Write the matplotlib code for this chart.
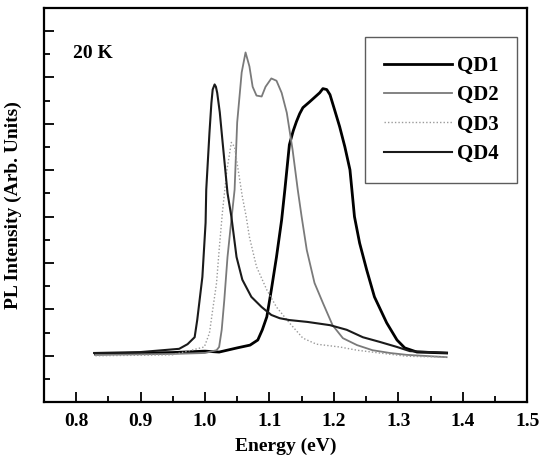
import matplotlib
matplotlib.use("Agg")
import matplotlib.pyplot as plt
from matplotlib.ticker import MultipleLocator

plt.rcParams["font.family"] = ["Liberation Serif", "DejaVu Serif"]
plt.rcParams["font.weight"] = "bold"

# spectra (energy in eV, intensity in arbitrary units)
qd1_e = [0.83, 0.95, 1.00, 1.022, 1.05, 1.07, 1.082, 1.089, 1.096, 1.103, 1.111,
         1.119, 1.124, 1.131, 1.137, 1.142, 1.147, 1.152, 1.162, 1.170, 1.178,
         1.183, 1.189, 1.194, 1.201, 1.209, 1.217, 1.225, 1.228, 1.232, 1.240,
         1.251, 1.263, 1.282, 1.298, 1.310, 1.329, 1.375]
qd1_i = [1.04, 1.07, 1.10, 1.08, 1.17, 1.23, 1.34, 1.56, 1.84, 2.42, 3.13,
         3.93, 4.58, 5.55, 5.85, 6.05, 6.22, 6.35, 6.47, 6.57, 6.67,
         6.76, 6.74, 6.63, 6.31, 5.94, 5.51, 5.01, 4.58, 4.00, 3.43,
         2.85, 2.27, 1.71, 1.34, 1.17, 1.08, 1.06]

qd2_e = [0.83, 0.95, 1.00, 1.018, 1.022, 1.026, 1.030, 1.035, 1.041, 1.046, 1.050,
         1.057, 1.063, 1.069, 1.074, 1.080, 1.088, 1.094, 1.103, 1.111, 1.119,
         1.127, 1.136, 1.144, 1.150, 1.158, 1.170, 1.183, 1.198, 1.214, 1.236,
         1.260, 1.287, 1.313, 1.375]
qd2_i = [1.02, 1.04, 1.06, 1.12, 1.19, 1.56, 2.20, 3.13, 3.93, 4.58, 6.03,
         7.11, 7.54, 7.24, 6.80, 6.61, 6.59, 6.80, 6.98, 6.93, 6.67,
         6.24, 5.44, 4.58, 4.00, 3.28, 2.57, 2.14, 1.66, 1.38, 1.23,
         1.12, 1.06, 1.02, 0.97]

qd3_e = [0.83, 0.95, 0.999, 1.007, 1.012, 1.018, 1.022, 1.027, 1.034, 1.041, 1.046,
         1.058, 1.064, 1.069, 1.080, 1.096, 1.111, 1.131, 1.152, 1.173, 1.209,
         1.236, 1.271, 1.313, 1.375]
qd3_i = [1.00, 1.02, 1.19, 1.49, 1.99, 2.57, 3.28, 4.08, 5.00, 5.60, 5.50,
         4.43, 4.00, 3.56, 2.92, 2.42, 2.05, 1.71, 1.38, 1.25, 1.19,
         1.12, 1.06, 0.99, 0.97]

qd4_e = [0.828, 0.90, 0.96, 0.973, 0.984, 0.988, 0.996, 1.001, 1.002, 1.007, 1.010,
         1.012, 1.015, 1.017, 1.019, 1.023, 1.027, 1.035, 1.041, 1.049, 1.058,
         1.072, 1.088, 1.103, 1.116, 1.131, 1.159, 1.194, 1.220, 1.245, 1.271,
         1.298, 1.318, 1.349, 1.375]
qd4_i = [1.06, 1.08, 1.15, 1.25, 1.40, 1.77, 2.70, 3.87, 4.58, 5.81, 6.45,
         6.74, 6.85, 6.80, 6.67, 6.25, 5.66, 4.51, 4.00, 3.13, 2.64,
         2.27, 2.05, 1.88, 1.81, 1.77, 1.73, 1.66, 1.56, 1.40, 1.30,
         1.19, 1.10, 1.08, 1.06]

labels = ["QD1", "QD2", "QD3", "QD4"]

fig = plt.figure(figsize=(5.48, 4.66), dpi=100)
ax = fig.add_axes([0.080, 0.137, 0.882, 0.846])

ax.plot(qd1_e, qd1_i, color="black", lw=2.0, label=labels[0])
ax.plot(qd2_e, qd2_i, color="#7a7a7a", lw=1.3, label=labels[1])
ax.plot(qd3_e, qd3_i, color="#9a9a9a", lw=1.0, ls=(0, (1, 1.5)), label=labels[2])
ax.plot(qd4_e, qd4_i, color="#1a1a1a", lw=1.5, label=labels[3])

ax.set_xlim(0.75, 1.5)
ax.set_ylim(0, 8.5)
ax.xaxis.set_major_locator(MultipleLocator(0.1))
ax.xaxis.set_minor_locator(MultipleLocator(0.05))
ax.yaxis.set_major_locator(MultipleLocator(1))
ax.yaxis.set_minor_locator(MultipleLocator(0.5))
ax.tick_params(which="both", direction="in", top=False, right=False, width=1.3)
ax.tick_params(which="major", length=7)
ax.tick_params(which="minor", length=4)
ax.tick_params(axis="x", labelsize=14, pad=8)
ax.set_yticklabels([])
for side in ax.spines.values():
    side.set_linewidth(1.6)

ax.set_xlabel("Energy (eV)", fontsize=14, fontweight="bold", labelpad=5)
ax.set_ylabel("PL Intensity (Arb. Units)", fontsize=14, fontweight="bold", labelpad=12)
ax.text(0.06, 0.885, "20 K", transform=ax.transAxes, fontsize=14,
        fontweight="bold", va="center")

leg = ax.legend(loc="upper right", bbox_to_anchor=(0.979, 0.926), borderaxespad=0,
                fancybox=False, edgecolor="#333333", fontsize=15, handlelength=3.3,
                labelspacing=0.45, handletextpad=0.2, borderpad=0.9)
leg.get_frame().set_linewidth(1.0)

fig.savefig("out.png", dpi=100)
